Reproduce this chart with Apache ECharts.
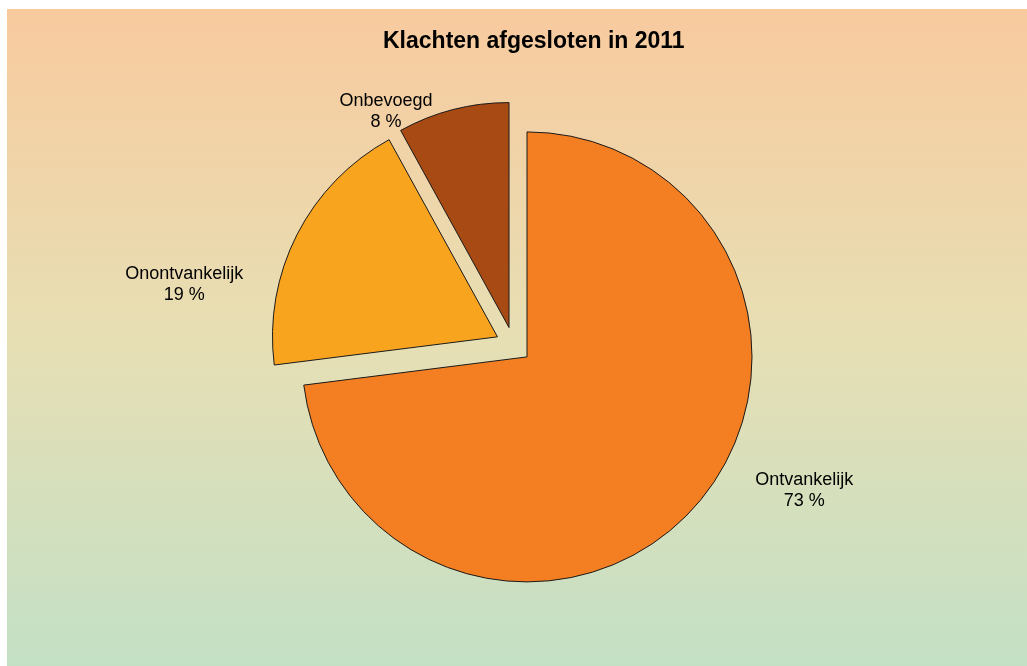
<!DOCTYPE html>
<html>
<head>
<meta charset="utf-8">
<script src="https://cdn.jsdelivr.net/npm/echarts@6/dist/echarts.min.js"></script>
<style>
  html, body { margin: 0; padding: 0; background: #ffffff; }
  #chart { position: absolute; left: 7px; top: 9px; width: 1020px; height: 657px; }
</style>
</head>
<body>
<div id="chart"></div>
<script>
// data
const categories = ['Ontvankelijk', 'Onontvankelijk', 'Onbevoegd'];
const shares = [73, 19, 8];
const sliceColors = ['#F47F22', '#F9A41F', '#A84A14'];

// the selected (exploded) state pins label x/y, so the text is moved with padding
// [dx, dy] from ECharts' default outside spot to where Excel put them
const labelShift = [[88.5, -28.5], [-90, 58.5], [-57, 19.5]];
const LINE_H = 21;

function shiftPadding(s) {
  const dx = s[0], dy = s[1];
  return [
    dy >= 0 ? Math.max(0, dy - LINE_H) : 0,
    dx < 0 ? -2 * dx : 0,
    dy < 0 ? Math.max(0, -dy - LINE_H) : 0,
    dx > 0 ? 2 * dx : 0
  ];
}

const chart = echarts.init(document.getElementById('chart'));

const pieData = categories.map((name, i) => ({
  name,
  value: shares[i],
  selected: true,
  itemStyle: { color: sliceColors[i] },
  label: { padding: shiftPadding(labelShift[i]) }
}));

chart.setOption({
  animation: false,
  backgroundColor: new echarts.graphic.LinearGradient(0, 0, 0, 1, [
    { offset: 0, color: '#F8CA9E' },
    { offset: 0.5, color: '#E7DFB4' },
    { offset: 1, color: '#C3E0C5' }
  ]),
  title: {
    text: 'Klachten afgesloten in 2011',
    left: 371,
    top: 16,
    textStyle: {
      fontFamily: 'Liberation Sans, Arial, sans-serif',
      fontSize: 23,
      fontWeight: 'bold',
      color: '#000000'
    }
  },
  series: [
    {
      type: 'pie',
      center: [506.5, 336],
      radius: 225,
      startAngle: 90,
      clockwise: true,
      selectedMode: 'multiple',
      selectedOffset: 18,
      avoidLabelOverlap: false,
      itemStyle: {
        borderColor: '#1a1a1a',
        borderWidth: 1
      },
      select: {
        itemStyle: { borderColor: '#1a1a1a', borderWidth: 1 }
      },
      emphasis: { disabled: true },
      label: {
        show: true,
        position: 'outside',
        formatter: p => p.name + '\n' + p.value + ' %',
        fontFamily: 'Liberation Sans, Arial, sans-serif',
        fontSize: 18,
        lineHeight: LINE_H,
        color: '#000000'
      },
      labelLine: { show: false, length: 20, length2: 0 },
      labelLayout: params => ({
        align: 'center',
        verticalAlign: labelShift[params.dataIndex][1] >= 0 ? 'top' : 'bottom'
      }),
      data: pieData
    }
  ]
});
</script>
</body>
</html>
